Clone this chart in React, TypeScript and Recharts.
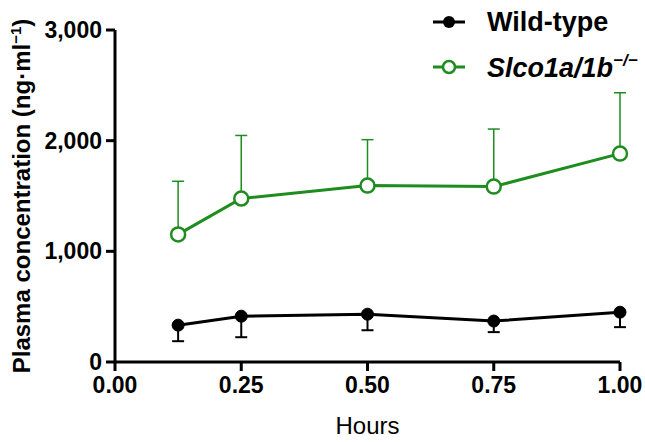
import React from 'react';
import { LineChart, Line, XAxis, YAxis, ErrorBar } from 'recharts';

const hours = [0.125, 0.25, 0.5, 0.75, 1.0];
const wildType = [333, 414, 432, 370, 450];
const wildTypeSd = [145, 190, 145, 100, 135];
const knockout = [1153, 1477, 1594, 1585, 1883];
const knockoutSd = [480, 570, 415, 520, 550];

const xTicks = [0, 0.25, 0.5, 0.75, 1];
const yTicks = [0, 1000, 2000, 3000];

const GREEN = '#1f8c1f';
const FONT = 'Liberation Sans, Arial, sans-serif';

const data = hours.map((h, i) => ({
  x: h,
  wt: wildType[i],
  wtErr: [wildTypeSd[i], 0],
  ko: knockout[i],
  koErr: [0, knockoutSd[i]],
}));

// legend drawn as an overlay in the top right corner
const LegendBox = () => (
  <svg width={225} height={90} style={{ position: 'absolute', left: 420, top: 0 }}>
    <line x1={13} y1={22} x2={45} y2={22} stroke="#000" strokeWidth={3} />
    <circle cx={29} cy={22} r={6} fill="#000" />
    <text x={67} y={31} fontFamily={FONT} fontWeight="bold" fontSize={27} fill="#000">
      Wild-type
    </text>
    <line x1={13} y1={67} x2={45} y2={67} stroke={GREEN} strokeWidth={3} />
    <circle cx={29} cy={67} r={6} fill="#fff" stroke={GREEN} strokeWidth={2.5} />
    <text x={67} y={77} fontFamily={FONT} fontWeight="bold" fontStyle="italic" fontSize={27} fill="#000">
      Slco1a/1b
      <tspan dy={-11} fontSize={17}>−/−</tspan>
    </text>
  </svg>
);

const YLabel = () => (
  <text
    x={0}
    y={0}
    transform="translate(30, 196) rotate(-90)"
    textAnchor="middle"
    fontFamily={FONT}
    fontWeight="bold"
    fontSize={24}
    fill="#000"
  >
    Plasma concentration (ng·ml
    <tspan dy={-9} fontSize={15}>−1</tspan>
    <tspan dy={9}>)</tspan>
  </text>
);

const App: React.FC = () => {
  return (
    <div style={{ position: 'absolute', left: 0, top: 0, width: 645, height: 442, background: '#fff' }}>
      <LineChart width={645} height={442} data={data} margin={{ top: 30, right: 25, bottom: 0, left: 40 }}>
        <XAxis
          dataKey="x"
          type="number"
          domain={[0, 1]}
          ticks={xTicks}
          tickFormatter={(v: number) => v.toFixed(2)}
          axisLine={{ stroke: '#000', strokeWidth: 3 }}
          tickLine={{ stroke: '#000', strokeWidth: 3 }}
          tickSize={9}
          tickMargin={6}
          tick={{ fill: '#000', fontFamily: FONT, fontWeight: 'bold', fontSize: 23 }}
          height={80}
          label={{ value: 'Hours', position: 'insideBottom', offset: 8, fill: '#000', fontFamily: FONT, fontSize: 24 }}
        />
        <YAxis
          type="number"
          domain={[0, 3000]}
          ticks={yTicks}
          tickFormatter={(v: number) => v.toLocaleString('en-US')}
          axisLine={{ stroke: '#000', strokeWidth: 3 }}
          tickLine={{ stroke: '#000', strokeWidth: 3 }}
          tickSize={9}
          tickMargin={4}
          tick={{ fill: '#000', fontFamily: FONT, fontWeight: 'bold', fontSize: 23 }}
          width={75}
          label={<YLabel />}
        />
        <Line
          dataKey="wt"
          stroke="#000"
          strokeWidth={3}
          dot={{ r: 6, fill: '#000', stroke: '#000', strokeWidth: 1 }}
          isAnimationActive={false}
        >
          <ErrorBar dataKey="wtErr" direction="y" width={6} stroke="#000" strokeWidth={2} />
        </Line>
        <Line
          dataKey="ko"
          stroke={GREEN}
          strokeWidth={3}
          dot={{ r: 7, fill: '#fff', stroke: GREEN, strokeWidth: 2.5 }}
          isAnimationActive={false}
        >
          <ErrorBar dataKey="koErr" direction="y" width={6} stroke={GREEN} strokeWidth={1.5} />
        </Line>
      </LineChart>
      <LegendBox />
    </div>
  );
};

export default App;
